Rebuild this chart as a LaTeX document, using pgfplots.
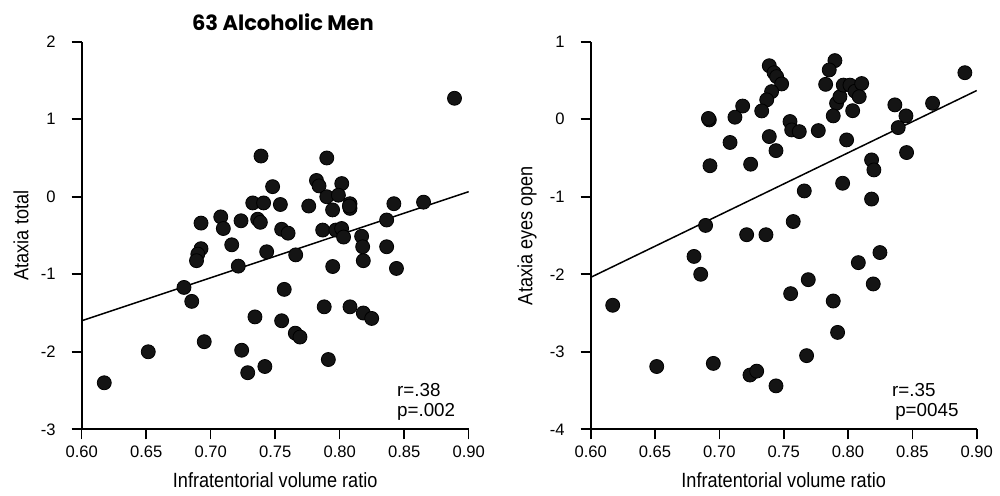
\documentclass[border=0pt]{standalone}
\usepackage{pgfplots}
\pgfplotsset{compat=1.18}
\usepackage{fontspec}
\setmainfont{Liberation Sans}
\newfontfamily\titlefont{Poppins}
\newfontfamily\narrowfont[FakeStretch=0.88]{Liberation Sans}
\newcommand\labfont{\narrowfont\fontsize{10.3}{12}\selectfont}
\pgfplotstableread{
x y
0.889 1.27
0.739 0.525
0.790 0.50
0.748 0.13
0.782 0.21
0.784 0.14
0.8016 0.17
0.790 0.00
0.799 0.02
0.7326 -0.08
0.741 -0.08
0.754 -0.10
0.776 -0.12
0.808 -0.09
0.808 -0.15
0.842 -0.09
0.865 -0.07
0.7945 -0.17
0.8364 -0.30
0.6925 -0.34
0.7078 -0.26
0.7235 -0.31
0.7364 -0.29
0.7385 -0.33
0.7098 -0.41
0.755 -0.42
0.760 -0.47
0.7868 -0.43
0.797 -0.43
0.8015 -0.41
0.803 -0.52
0.817 -0.51
0.8178 -0.645
0.8364 -0.645
0.8183 -0.825
0.844 -0.925
0.6925 -0.67
0.690 -0.74
0.689 -0.825
0.7163 -0.62
0.7214 -0.895
0.7434 -0.71
0.7659 -0.75
0.7946 -0.90
0.6793 -1.17
0.6853 -1.35
0.757 -1.195
0.788 -1.42
0.808 -1.42
0.8183 -1.50
0.8248 -1.57
0.7343 -1.55
0.755 -1.60
0.7656 -1.76
0.7692 -1.81
0.695 -1.87
0.6516 -2.00
0.724 -1.98
0.7912 -2.10
0.742 -2.19
0.7287 -2.27
0.6175 -2.40
0.8075 -0.12
}\lefttable
\pgfplotstableread{
x y
0.8908 0.60
0.7898 0.756
0.7854 0.636
0.7826 0.45
0.7388 0.69
0.7425 0.60
0.7445 0.55
0.7484 0.455
0.7406 0.356
0.7368 0.25
0.7329 0.107
0.7181 0.17
0.7121 0.026
0.6922 -0.009
0.6915 0.01
0.7083 -0.30
0.6927 -0.60
0.7243 -0.58
0.7388 -0.224
0.744 -0.405
0.7549 -0.03
0.7562 -0.138
0.7621 -0.16
0.7769 -0.147
0.7911 0.206
0.7937 0.29
0.7963 0.44
0.8015 0.44
0.8054 0.36
0.8106 0.46
0.8087 0.29
0.7885 0.043
0.8036 0.11
0.7989 -0.267
0.8364 0.185
0.845 0.043
0.839 -0.108
0.8657 0.206
0.8455 -0.43
0.8183 -0.525
0.8201 -0.654
0.7958 -0.826
0.766 -0.925
0.8183 -1.03
0.6893 -1.37
0.7574 -1.32
0.7212 -1.49
0.7362 -1.49
0.8248 -1.72
0.808 -1.85
0.8196 -2.125
0.6803 -1.77
0.6855 -2.00
0.7691 -2.07
0.7554 -2.25
0.7885 -2.345
0.7919 -2.75
0.6171 -2.40
0.6513 -3.19
0.6953 -3.15
0.7238 -3.30
0.729 -3.25
0.744 -3.44
0.7678 -3.05
}\righttable
\pgfplotsset{
  myaxis/.style={
    width=193.5pt, height=193.8pt, scale only axis,
    axis lines=left,
    axis line style={-, line width=1pt},
    xmin=0.60, xmax=0.90,
    xtick={0.60,0.65,0.70,0.75,0.80,0.85,0.90},
    tick align=outside,
    major tick length=5pt,
    every tick/.style={black, line width=0.8pt},
    /pgf/number format/assume math mode=true,
    xticklabel style={/pgf/number format/.cd, fixed, fixed zerofill, precision=2},
    ticklabel style={font=\fontsize{8.3}{10}\selectfont},
    yticklabel style={xshift=-4.5pt},
    xlabel={\labfont Infratentorial volume ratio},
    every axis x label/.style={at={(axis description cs:0.5,-0.131)}, anchor=center},
    clip=false,
  },
  dots/.style={only marks, mark=*, mark size=3.5pt, mark options={fill=black!92, draw=black}},
  reg/.style={black, line width=0.75pt, no marks},
}
\begin{document}
\begin{tikzpicture}
\path[use as bounding box] (0,0) rectangle (500pt,248pt);
\begin{axis}[myaxis, at={(40.85pt,33.35pt)}, anchor=south west,
  ymin=-3, ymax=2, ytick={-3,-2,-1,0,1,2},
  ylabel={\labfont Ataxia total},
  every axis y label/.style={at={(axis description cs:-0.157,0.5)}, rotate=90, anchor=center}]
\addplot[reg] coordinates {(0.60,-1.60) (0.90,0.065)};
\addplot[dots] table[x=x,y=y] {\lefttable};
\node[anchor=base west, font=\fontsize{9.4}{11}\selectfont, inner sep=0pt] at (axis description cs:0.814,0.084) {r=.38};
\node[anchor=base west, font=\fontsize{9.4}{11}\selectfont, inner sep=0pt] at (axis description cs:0.814,0.032) {p=.002};
\node[anchor=center, font=\titlefont\bfseries\fontsize{10.5}{12}\selectfont] at (axis description cs:0.52,1.051) {63 Alcoholic Men};
\end{axis}
\begin{axis}[myaxis, at={(295.35pt,33.35pt)}, anchor=south west,
  width=193pt,
  ymin=-4, ymax=1, ytick={-4,-3,-2,-1,0,1},
  ylabel={\labfont Ataxia eyes open},
  every axis y label/.style={at={(axis description cs:-0.165,0.5)}, rotate=90, anchor=center}]
\addplot[reg] coordinates {(0.60,-2.04) (0.90,0.37)};
\addplot[dots] table[x=x,y=y] {\righttable};
\node[anchor=base west, font=\fontsize{9.4}{11}\selectfont, inner sep=0pt] at (axis description cs:0.78,0.084) {r=.35};
\node[anchor=base west, font=\fontsize{9.4}{11}\selectfont, inner sep=0pt] at (axis description cs:0.788,0.032) {p=0045};
\end{axis}
\end{tikzpicture}
\end{document}
